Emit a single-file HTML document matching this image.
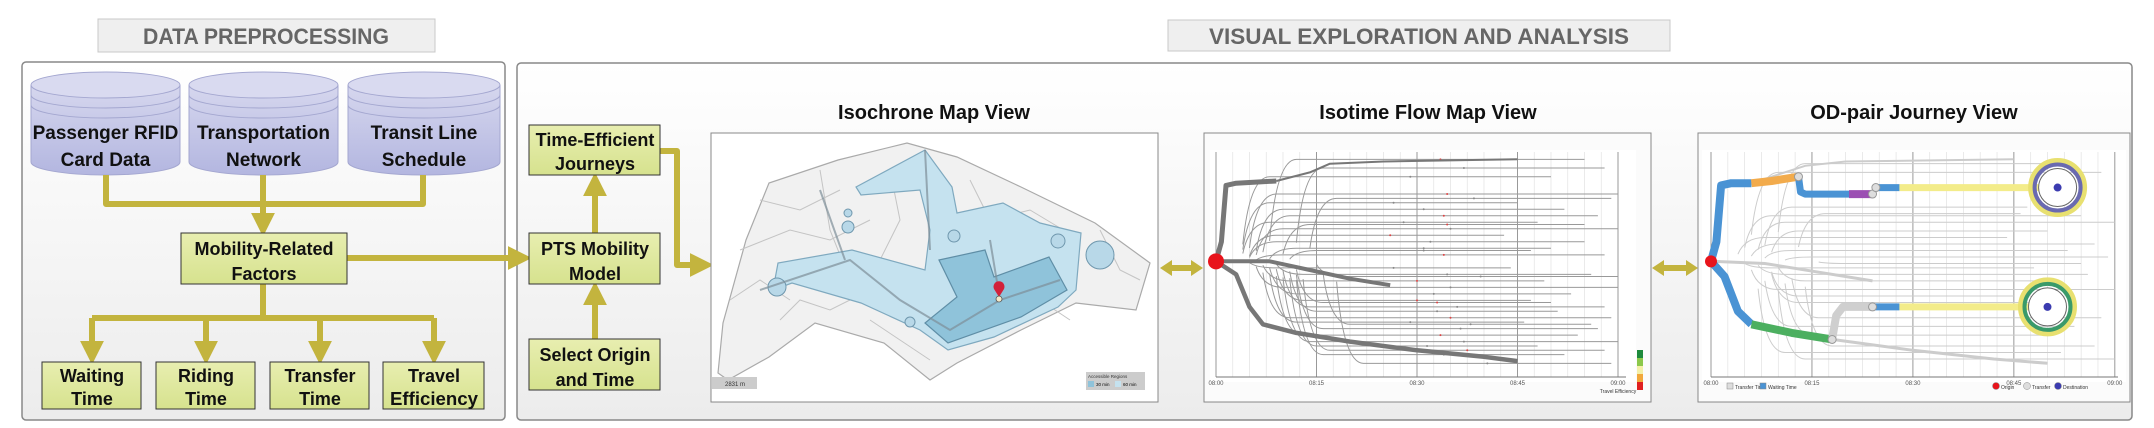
<!DOCTYPE html>
<html><head><meta charset="utf-8"><style>
html,body{margin:0;padding:0;background:#fff}
svg{display:block}
text{font-family:"Liberation Sans",sans-serif}
.b{font-weight:bold;fill:#111;text-anchor:middle}
</style></head><body>
<svg id="s" width="2154" height="428" viewBox="0 0 2154 428" xmlns="http://www.w3.org/2000/svg">
<defs>
<linearGradient id="pg" x1="0" y1="0" x2="0" y2="1"><stop offset="0" stop-color="#ffffff"/><stop offset="1" stop-color="#ececec"/></linearGradient>
<linearGradient id="bx" x1="0" y1="0" x2="0" y2="1"><stop offset="0" stop-color="#e8eeb0"/><stop offset="1" stop-color="#d6e28e"/></linearGradient>
<linearGradient id="cy" x1="0" y1="0" x2="0" y2="1"><stop offset="0" stop-color="#d6d7ee"/><stop offset="1" stop-color="#b3b6e0"/></linearGradient>
<marker id="ah" markerWidth="4" markerHeight="4" refX="2.2" refY="2" orient="auto" markerUnits="strokeWidth"><path d="M0,0 L4,2 L0,4 z" fill="#c3b43e"/></marker>
</defs>

<g>
<rect x="98" y="19" width="337" height="33" fill="#efefef" stroke="#c8c8c8"/>
<text x="266" y="44" font-size="22" font-weight="bold" fill="#666" text-anchor="middle" textLength="246" lengthAdjust="spacingAndGlyphs">DATA PREPROCESSING</text>
</g>
<g>
<rect x="1168" y="20" width="502" height="31" fill="#efefef" stroke="#c8c8c8"/>
<text x="1419" y="44" font-size="22" font-weight="bold" fill="#666" text-anchor="middle" textLength="420" lengthAdjust="spacingAndGlyphs">VISUAL EXPLORATION AND ANALYSIS</text>
</g>

<rect x="22" y="62" width="483" height="358" rx="4" fill="url(#pg)" stroke="#888" stroke-width="1.5"/>
<rect x="517" y="63" width="1615" height="357" rx="4" fill="url(#pg)" stroke="#888" stroke-width="1.5"/>

<g id="cyls"></g>

<g fill="none" stroke="#c3b43e" stroke-width="6" stroke-linejoin="round">
<path d="M106,175 V204 H423 V175 M263,175 V204"/>
<path d="M263,204 V226" marker-end="url(#ah)"/>
<path d="M263,284 V318 M92,318 H434"/>
<path d="M92,318 V354" marker-end="url(#ah)"/>
<path d="M206,318 V354" marker-end="url(#ah)"/>
<path d="M320,318 V354" marker-end="url(#ah)"/>
<path d="M434,318 V354" marker-end="url(#ah)"/>
<path d="M347,258 H521" marker-end="url(#ah)"/>
<path d="M595,233 V183" marker-end="url(#ah)"/>
<path d="M595,339 V292" marker-end="url(#ah)"/>
<path d="M660,151 H677 V265 H703" marker-end="url(#ah)"/>
</g>

<g><rect x="181" y="233" width="166" height="51" fill="url(#bx)" stroke="#333"/>
<text class="b" x="264" y="255" font-size="18">Mobility-Related</text><text class="b" x="264" y="280" font-size="18">Factors</text></g>
<g><rect x="42" y="362" width="99" height="47" fill="url(#bx)" stroke="#333"/>
<text class="b" x="92" y="382" font-size="18">Waiting</text><text class="b" x="92" y="405" font-size="18">Time</text></g>
<g><rect x="156" y="362" width="99" height="47" fill="url(#bx)" stroke="#333"/>
<text class="b" x="206" y="382" font-size="18">Riding</text><text class="b" x="206" y="405" font-size="18">Time</text></g>
<g><rect x="270" y="362" width="99" height="47" fill="url(#bx)" stroke="#333"/>
<text class="b" x="320" y="382" font-size="18">Transfer</text><text class="b" x="320" y="405" font-size="18">Time</text></g>
<g><rect x="383" y="362" width="101" height="47" fill="url(#bx)" stroke="#333"/>
<text class="b" x="434" y="382" font-size="18">Travel</text><text class="b" x="434" y="405" font-size="18" textLength="88" lengthAdjust="spacingAndGlyphs">Efficiency</text></g>
<g><rect x="529" y="125" width="131" height="50" fill="url(#bx)" stroke="#333"/>
<text class="b" x="595" y="146" font-size="18">Time-Efficient</text><text class="b" x="595" y="170" font-size="18">Journeys</text></g>
<g><rect x="529" y="233" width="131" height="51" fill="url(#bx)" stroke="#333"/>
<text class="b" x="595" y="255" font-size="18">PTS Mobility</text><text class="b" x="595" y="280" font-size="18">Model</text></g>
<g><rect x="529" y="339" width="131" height="51" fill="url(#bx)" stroke="#333"/>
<text class="b" x="595" y="361" font-size="18">Select Origin</text><text class="b" x="595" y="386" font-size="18">and Time</text></g>

<text class="b" x="934" y="119" font-size="20">Isochrone Map View</text>
<text class="b" x="1428" y="119" font-size="20">Isotime Flow Map View</text>
<text class="b" x="1914" y="119" font-size="20">OD-pair Journey View</text>

<g fill="#c3b43e">
<path d="M1160,268 l12,-8 v5 h19 v-5 l12,8 l-12,8 v-5 h-19 v5 z"/>
<path d="M1652,268 l12,-8 v5 h22 v-5 l12,8 l-12,8 v-5 h-22 v5 z"/>
</g>

<g>
<rect x="711" y="133" width="447" height="269" fill="#fff" stroke="#888"/>
<path d="M718,373 L723,323 L746,240 L769,183 L838,160 L907,143 L957,157 L1021,187 L1095,223 L1150,263 L1136,310 L1076,303 L1021,330 L957,363 L930,380 L884,343 L815,323 L769,357 L728,380 Z" fill="#f1f1f1" stroke="#aaa" stroke-width="1.2"/>
<g fill="none" stroke="#c4c4c4" stroke-width="1">
<path d="M740,250 L790,230 L830,240 L870,220 M760,200 L800,210 L840,190 M780,320 L800,300 L830,310 L870,290 M890,170 L900,220 L880,260 M970,180 L990,220 L1030,210 L1080,240 M1100,230 L1120,270 L1140,280 M730,300 L760,280 L790,300 M820,170 L830,230 L850,280 M940,300 L960,340 M1040,300 L1070,320 M870,320 L900,340 L930,360"/>
</g>
<path d="M856,187 L925,150 L952,187 L957,213 L1003,203 L1040,223 L1081,233 L1076,290 L1058,307 L994,337 L948,350 L920,330 L861,303 L792,283 L773,290 L778,263 L852,250 L925,270 L930,230 L920,190 L861,195 Z" fill="#c5e2ef" stroke="#7fa9bf" stroke-width="1.2"/>
<path d="M939,260 L985,250 L994,277 L1049,257 L1067,290 L1021,317 L948,343 L925,323 L957,297 Z" fill="#8fc3da" stroke="#5f8ea6" stroke-width="1.2"/>
<g fill="#b8d8e8" stroke="#6f97ad">
<circle cx="777" cy="287" r="9"/><circle cx="848" cy="227" r="6"/><circle cx="848" cy="213" r="4"/><circle cx="1058" cy="241" r="7"/><circle cx="1100" cy="255" r="14"/><circle cx="954" cy="236" r="6"/><circle cx="910" cy="322" r="5"/>
</g>
<path d="M760,290 L850,260 L900,300 L950,330 L1000,300 L1060,280 M925,150 L930,250 M990,240 L1000,300 M820,190 L845,260" fill="none" stroke="#7d8f99" stroke-width="2" opacity="0.7"/>
<path d="M999,297 l-5,-8 a5.5,5.5 0 1 1 10,0 z" fill="#d2213a"/>
<circle cx="999" cy="299" r="3" fill="#f3e9c8" stroke="#555" stroke-width="0.8"/>
<rect x="712" y="377" width="45" height="12" fill="#ccc"/>
<text x="735" y="386" font-size="6" text-anchor="middle" fill="#333">2831 m</text>
<g><rect x="1086" y="372" width="59" height="18" fill="#ccc"/>
<text x="1088" y="378" font-size="4.5" fill="#333">Accessible Regions</text>
<rect x="1088" y="381" width="6" height="6" fill="#8fc3da"/><text x="1096" y="386" font-size="4.5">30 min</text>
<rect x="1115" y="381" width="6" height="6" fill="#c5e2ef"/><text x="1123" y="386" font-size="4.5">60 min</text></g>
</g>

<g id="iso">
<rect x="1204" y="133" width="447" height="269" fill="#fbfbfb" stroke="#888"/>
<rect x="1210" y="150" width="426" height="232" fill="#fff"/>
</g>
<g id="od">
<rect x="1698" y="133" width="432" height="269" fill="#fbfbfb" stroke="#888"/>
<rect x="1702" y="150" width="424" height="232" fill="#fff"/>
</g>
</svg>
<script>
const cylLabels = [["Passenger RFID","Card Data"],["Transportation","Network"],["Transit Line","Schedule"]];
const isoTicks = ["08:00","08:15","08:30","08:45","09:00"];
const isoTickMin = [0,15,30,45,60];
const lineStart = [12,16,8,9,8,10,11,8,10,9,9,12,10,9,13,11,10,12,13,14,15,11,12,16,13,14,15,17,16,18,14,15,19,16,20,22];
const lineEnd   = [55,58,50,60,45,52,57,48,60,43,55,50,58,44,56,49,60,53,47,58,51,59,46,57,54,60,48,58,52,59,55,47,60,50,56,59];
const lineRow   = [2,6,10,18,22,25,28,31,34,37,40,43,46,52,55,58,61,64,67,70,72,75,77,80,83,86,88,90,92,20,32,44,56,68,78,96];
const isoFlowUpper = [[0,49],[0.8,40],[1.5,14],[3,13],[9,12]];
const isoFlowUpper2 = [[9,12],[14,8],[17,4],[25,3],[45,2]];
const isoFlowMid = [[0,49],[8,49],[14,53],[20,57],[26,60]];
const isoFlowLow = [[0,49],[3,55],[5,70],[7,78],[12,82],[20,86],[30,90],[40,93],[45,95]];
const effColors = ["#1e8a3c","#8cc84b","#f4f0a8","#f2a83c","#e02020"];
const odLineStart = [14,10,12,9,11,13,8,10,12,15,9,11,14,10,13,16,12,15,18,11,14,17,20,13];
const odLineEnd   = [52,58,47,55,60,50,44,57,53,59,48,56,51,60,45,58,54,49,57,52,60,46,55,50];
const odLineRow   = [4,8,24,28,31,35,38,41,44,47,52,55,58,62,65,75,79,83,88,91,94,27,50,68];
const odUpBlue1 = [[0,49],[0.8,40],[1.5,14],[3,13],[6,13]];
const odUpOrange = [[6,13],[9,12],[13,10]];
const odUpBlue2 = [[13,10],[13.3,17],[14,18],[20.5,18]];
const odUpPurple = [[20.5,18],[24,18]];
const odUpBlue3 = [[24.5,15],[28,15]];
const odUpYellow = [[28,15],[51,15]];
const odLoBlue = [[0,49],[2,56],[4,72],[6,78]];
const odLoGreen = [[6,78],[12,82],[18,85]];
const odLoGray = [[18,85],[18.6,74],[19.6,70],[24,70]];
const odLoBlue2 = [[24,70],[28,70]];
const odLoYellow = [[28,70],[50,70]];
const odClocks = [[51.5,15],[50,70]];

const NS = "http://www.w3.org/2000/svg";
function mk(tag, attrs, parent){const e=document.createElementNS(NS,tag);for(const k in attrs)e.setAttribute(k,attrs[k]);parent.appendChild(e);return e;}
const svg=document.getElementById('s');

const cylG=document.getElementById('cyls');
const cylX=[31,189,348], cylW=[149,149,152];
cylLabels.forEach((lab,i)=>{
  const g=mk('g',{},cylG);
  
  
  const x=cylX[i],w=cylW[i],cx=x+w/2,rx=w/2,ry=13,top=85,bot=162;
  mk('path',{d:`M${x},${top} V${bot} A${rx},${ry} 0 0 0 ${x+w},${bot} V${top}`,fill:'url(#cy)',stroke:'#a4a7d0'},g);
  mk('ellipse',{cx:cx,cy:top,rx:rx,ry:ry,fill:'#d9daf0',stroke:'#a4a7d0'},g);
  [10,20].forEach(o=>mk('path',{d:`M${x},${top+o} A${rx},${ry} 0 0 0 ${x+w},${top+o}`,fill:'none',stroke:'#a4a7d0'},g));
  lab.forEach((t,j)=>{const tx=mk('text',{x:cx,y:139+j*27,'font-size':19,class:'b'},g);tx.textContent=t;});
});

function pathD(pts,sx,sy){let d='';pts.forEach((p,i)=>{d+=(i?' L':'M')+sx(p[0]).toFixed(1)+','+sy(p[1]).toFixed(1);});return d;}

const iso=document.getElementById('iso');
const ix=t=>1216+t*6.7, iy=r=>155+r*2.17;
for(let m=0;m<=60;m+=2.5){const l=mk('line',{x1:ix(m),x2:ix(m),y1:152,y2:377,stroke:m%15===0?'#999':'#e2e2e2','stroke-width':m%15===0?1:0.7},iso);

}
lineRow.forEach((r,i)=>{const l=mk('path',{d:`M${ix(lineStart[i]-4)},${iy(49+(r-49)*0.2)} Q${ix(lineStart[i]-3)},${iy(r)} ${ix(lineStart[i])},${iy(r)} L${ix(lineEnd[i])},${iy(r)}`,fill:'none',stroke:'#999','stroke-width':1},iso);


const d=mk('circle',{cx:ix((lineStart[i]+lineEnd[i])/2),cy:iy(r),r:1,fill:i%3?'#888':'#d44'},iso);

});
[[isoFlowUpper,5],[isoFlowUpper2,2],[isoFlowMid,4],[isoFlowLow,4.5]].forEach(f=>{const p=mk('path',{d:pathD(f[0],ix,iy),fill:'none',stroke:'#777','stroke-width':f[1],'stroke-linejoin':'round'},iso);

});
mk('line',{x1:1216,x2:1626,y1:377,y2:377,stroke:'#777'},iso);
isoTicks.forEach((t,i)=>{const tx=mk('text',{x:ix(isoTickMin[i]),y:385,'font-size':6,'text-anchor':'middle',fill:'#555'},iso);tx.textContent=t;

});
const org=mk('circle',{cx:ix(0),cy:iy(49),r:8,fill:'#e8141c'},iso);


effColors.forEach((c,i)=>{const r=mk('rect',{x:1637,y:350+i*8,width:6,height:8,fill:c},iso);

});
{const t=mk('text',{x:1618,y:393,'font-size':5,'text-anchor':'middle',fill:'#333'},iso);t.textContent='Travel Efficiency';}

const od=document.getElementById('od');
const ox=t=>1711+t*6.73, oy=r=>155+r*2.17;
for(let m=0;m<=60;m+=2.5){const l=mk('line',{x1:ox(m),x2:ox(m),y1:152,y2:377,stroke:m%15===0?'#999':'#e2e2e2','stroke-width':m%15===0?1:0.7},od);

}
odLineRow.forEach((r,i)=>{const l=mk('path',{d:`M${ox(odLineStart[i]-4)},${oy(49+(r-49)*0.3)} Q${ox(odLineStart[i]-3)},${oy(r)} ${ox(odLineStart[i])},${oy(r)} L${ox(odLineEnd[i])},${oy(r)}`,fill:'none',stroke:'#ccc','stroke-width':1},od);

});
[[[[0,49],[8,50],[16,54],[24,58]],3],[[[18,85],[30,90],[42,94],[50,96]],3],[[[6,13],[14,5],[20,3],[45,2]],2]].forEach(f=>{const p=mk('path',{d:pathD(f[0],ox,oy),fill:'none',stroke:'#ccc','stroke-width':f[1]},od);

});
[[odUpYellow,'#f3ec8a',7],[odLoYellow,'#f3ec8a',7],[odUpBlue1,'#4a93d4',8],[odUpOrange,'#f2ab4c',8],[odUpBlue2,'#4a93d4',7],[odUpPurple,'#9b4fb3',8],[odUpBlue3,'#4a93d4',7],[odLoBlue,'#4a93d4',8],[odLoGreen,'#4caf60',8],[odLoGray,'#cfcfcf',8],[odLoBlue2,'#4a93d4',7]].forEach(f=>{const p=mk('path',{d:pathD(f[0],ox,oy),fill:'none',stroke:f[1],'stroke-width':f[2],'stroke-linejoin':'round'},od);

});
[[13,10],[24,18],[24.5,15],[18,85],[24,70]].forEach(n=>{const c=mk('circle',{cx:ox(n[0]),cy:oy(n[1]),r:4,fill:'#ddd',stroke:'#999'},od);

});
odClocks.forEach(c=>{const cx=ox(c[0]),cy=oy(c[1]);const g=mk('g',{},od);


mk('circle',{cx:cx,cy:cy,r:27,fill:'none',stroke:'#e8e070','stroke-width':5},g);
mk('circle',{cx:cx,cy:cy,r:23,fill:'none',stroke:c[1]>50?'#3a9a6a':'#6a6ab0','stroke-width':4},g);
mk('circle',{cx:cx,cy:cy,r:19,fill:'#fff',stroke:'#666'},g);
mk('circle',{cx:cx,cy:cy,r:4,fill:'#3b3bb0'},g);});
mk('line',{x1:1711,x2:2118,y1:377,y2:377,stroke:'#777'},od);
isoTicks.forEach((t,i)=>{const tx=mk('text',{x:ox(isoTickMin[i]),y:385,'font-size':6,'text-anchor':'middle',fill:'#555'},od);tx.textContent=t;

});
const o2=mk('circle',{cx:ox(0),cy:oy(49),r:6,fill:'#e8141c'},od);


[[1727,'#ddd','Transfer Time'],[1760,'#4a93d4','Waiting Time'],[1993,'#e8141c','Origin'],[2024,'#ddd','Transfer'],[2055,'#3b3bb0','Destination']].forEach((L,i)=>{
const g=mk('g',{},od);


if(i<2)mk('rect',{x:L[0],y:383,width:6,height:6,fill:L[1],stroke:'#888','stroke-width':0.5},g);else mk('circle',{cx:L[0]+3,cy:386,r:3.5,fill:L[1],stroke:'#888','stroke-width':0.5},g);
const t=mk('text',{x:L[0]+8,y:389,'font-size':5,fill:'#333'},g);t.textContent=L[2];});
</script>
</body></html>
